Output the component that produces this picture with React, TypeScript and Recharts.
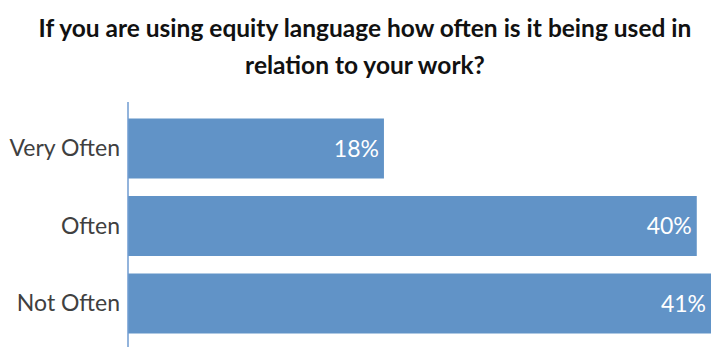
import React from 'react';
import { BarChart, Bar, XAxis, YAxis, LabelList } from 'recharts';

const categories = ['Very Often', 'Often', 'Not Often'];
const percents = [18, 40, 41];

const titleLines = [
  'If you are using equity language how often is it being used in',
  'relation to your work?',
];

const data = categories.map((name, i) => ({ name, value: percents[i] }));

export default function App() {
  return (
    <div style={{ position: 'absolute', left: 0, top: 0, width: 712, height: 347, background: '#fff', fontFamily: 'Lato, sans-serif' }}>
      <div style={{ position: 'absolute', left: 0, top: 9, width: 730, textAlign: 'center', fontWeight: 700, fontSize: 24.5, lineHeight: '37px', color: '#111' }}>
        {titleLines.map(t => (
          <div key={t}>{t}</div>
        ))}
      </div>
      <BarChart
        width={712}
        height={347}
        data={data}
        layout="vertical"
        margin={{ top: 102, right: 1, left: 0, bottom: 0 }}
      >
        <XAxis type="number" domain={[0, 41]} hide />
        <YAxis
          type="category"
          dataKey="name"
          width={128}
          tickLine={false}
          axisLine={{ stroke: '#6f9bd0', strokeWidth: 1.5 }}
          tick={{ fill: '#404040', fontSize: 23, fontFamily: 'Lato, sans-serif' }}
          tickMargin={2}
          padding={{ top: 7.5, bottom: 5 }}
        />
        <Bar dataKey="value" fill="#6193c7" barSize={60} isAnimationActive={false}>
          <LabelList
            dataKey="value"
            position="insideRight"
            offset={5}
            formatter={(v: number) => `${v}%`}
            fill="#ffffff"
            fontSize={23}
            fontFamily="Lato, sans-serif"
          />
        </Bar>
      </BarChart>
    </div>
  );
}
